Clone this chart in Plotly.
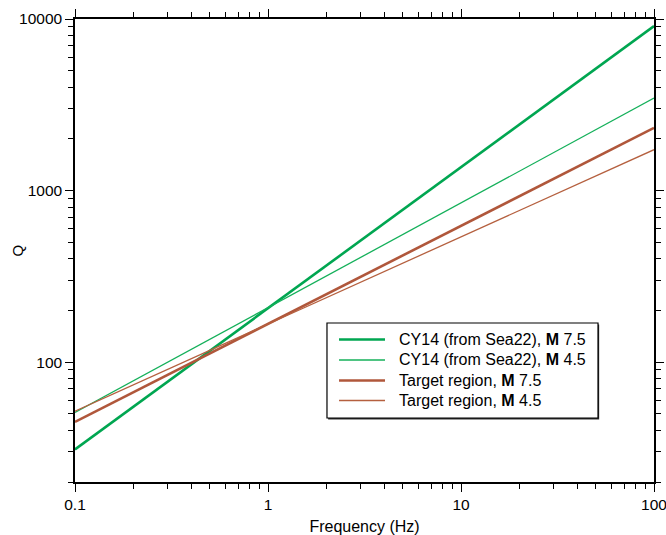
import plotly.graph_objects as go
import numpy as np

freq = [0.1, 1, 10, 100]
q_cy14_m75 = [31, 206, 1370, 9100]
q_cy14_m45 = [50.8, 207, 847, 3460]
q_tr_m75 = [44.8, 167, 624, 2320]
q_tr_m45 = [51.7, 166, 536, 1730]

names = ["CY14 (from Sea22), <b>M</b> 7.5", "CY14 (from Sea22), <b>M</b> 4.5",
         "Target region, <b>M</b> 7.5", "Target region, <b>M</b> 4.5"]
series = [q_cy14_m75, q_cy14_m45, q_tr_m75, q_tr_m45]
colors = ["#00a651", "#14b05a", "#b0573b", "#b5603f"]
widths = [2.6, 1.3, 2.6, 1.3]

x_ticks = [0.1, 1, 10, 100]
x_ticktext = ["0.1", "1", "10", "100"]
y_ticks = [100, 1000, 10000]
y_ticktext = ["100", "1000", "10000"]

x_minor = [m * 10.0**e for e in range(-1, 2) for m in range(2, 10)]
y_minor = [m * 10.0**e for e in range(1, 4) for m in range(2, 10) if m * 10.0**e >= 20]

fig = go.Figure()
for n, s, c, w in zip(names, series, colors, widths):
    fig.add_trace(go.Scatter(x=freq, y=s, mode="lines", name=n,
                             line=dict(color=c, width=w), showlegend=False))

font = "Liberation Sans, Arial, Helvetica, sans-serif"
axis_common = dict(type="log", showgrid=False, zeroline=False, showline=True,
                   linecolor="black", linewidth=1.5, mirror="allticks",
                   ticks="outside", ticklen=8, tickwidth=1.2, tickcolor="black",
                   ticklabeloverflow="allow",
                   tickfont=dict(family=font, size=15.5, color="black"))

fig.update_xaxes(**axis_common, range=[-1, 2], tickvals=x_ticks, ticktext=x_ticktext,
                 minor=dict(tickvals=x_minor, ticks="outside", ticklen=5,
                            tickwidth=1.2, tickcolor="black"),
                 title=dict(text="Frequency (Hz)", font=dict(family=font, size=16, color="black"),
                            standoff=9))
fig.update_yaxes(**axis_common, range=[np.log10(20), 4], tickvals=y_ticks, ticktext=y_ticktext,
                 minor=dict(tickvals=y_minor, ticks="outside", ticklen=5,
                            tickwidth=1.2, tickcolor="black"))

# Custom legend box (paper coordinates)
box_x0, box_x1, box_y0, box_y1 = 0.4352, 0.9033, 0.1382, 0.3434
line_x0, line_x1, text_x = 0.4560, 0.5354, 0.5561
row_y = [0.3078, 0.2635, 0.2192, 0.1760]

shapes = [
    dict(type="rect", xref="paper", yref="paper", x0=box_x0 + 0.002, x1=box_x1 + 0.002,
         y0=box_y0 - 0.003, y1=box_y1 - 0.003, line=dict(width=0), fillcolor="#333333", layer="above"),
    dict(type="rect", xref="paper", yref="paper", x0=box_x0, x1=box_x1,
         y0=box_y0, y1=box_y1, line=dict(color="black", width=1.2), fillcolor="white", layer="above"),
]
annotations = []
for n, c, w, yy in zip(names, colors, widths, row_y):
    shapes.append(dict(type="line", xref="paper", yref="paper", x0=line_x0, x1=line_x1,
                       y0=yy, y1=yy, line=dict(color=c, width=w), layer="above"))
    annotations.append(dict(xref="paper", yref="paper", x=text_x, y=yy, text=n,
                            showarrow=False, xanchor="left", yanchor="middle",
                            font=dict(family=font, size=16, color="black")))

annotations.append(dict(xref="paper", yref="paper", x=-0.1, y=0.5, text="Q",
                        showarrow=False, textangle=-90, xanchor="center", yanchor="middle",
                        font=dict(family=font, size=15, color="black")))

fig.update_layout(
    width=666, height=535,
    margin=dict(l=75, r=12, t=19, b=53, autoexpand=False),
    plot_bgcolor="white", paper_bgcolor="white",
    font=dict(family=font, size=14, color="black"),
    shapes=shapes, annotations=annotations,
    showlegend=False,
)

fig.write_html("out.html")
